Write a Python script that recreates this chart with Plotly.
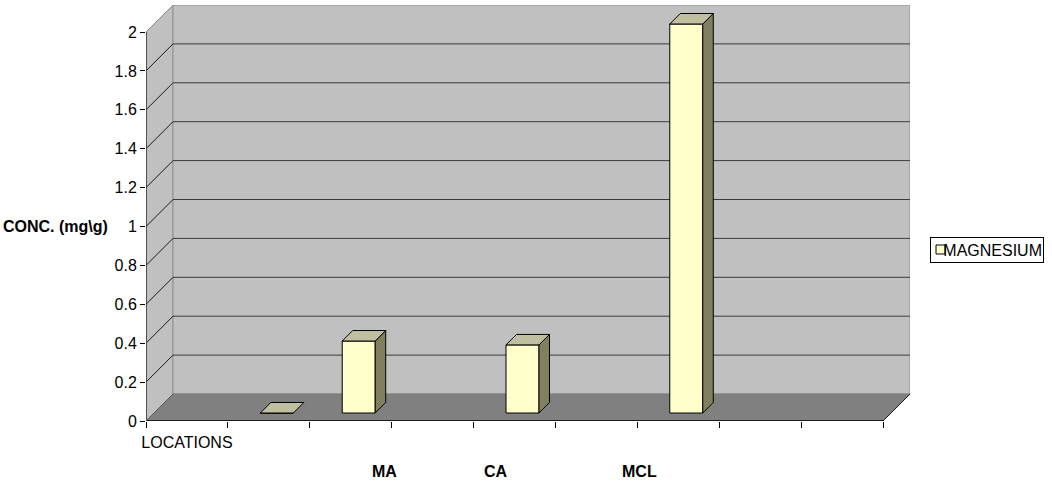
import plotly.graph_objects as go

# ---------------- data ----------------
categories = ["LOCATIONS", "", "MA", "", "CA", "", "MCL", "", ""]
magnesium = [None, 0.0, 0.37, None, 0.35, None, 2.0, None, None]
y_tick_values = [0, 0.2, 0.4, 0.6, 0.8, 1.0, 1.2, 1.4, 1.6, 1.8, 2.0]
y_tick_labels = ["0", "0.2", "0.4", "0.6", "0.8", "1", "1.2", "1.4", "1.6", "1.8", "2"]
series_name = "MAGNESIUM"
axis_title = "CONC. (mg\\g)"

# ---------------- geometry / style ----------------
W, H = 1052, 487
ML, MR, MT, MB = 146, 142, 5, 66
PW, PH = W - ML - MR, H - MT - MB
DEPTH = 27            # px, 3-D depth of the box
BAR_SHIFT = 8         # px, bar front set back from front plane
BAR_W = 33            # px, bar front width
BAR_D = 10.5          # px, bar depth
FONT = "Liberation Sans, Arial, sans-serif"
WALL = "#C0C0C0"
FLOOR = "#808080"
FRONT = "#FFFFCC"
SIDE = "#808060"
TOP = "#C0C0A0"
label_offsets = {"MA": 0.41, "CA": -0.22, "MCL": -0.47}

n = len(categories)
ymax = max(y_tick_values)
cat_px = (PW - DEPTH) / n
val_px = (PH - DEPTH) / ymax
x_rng = [0, n * PW / (PW - DEPTH)]
y_rng = [0, ymax * PH / (PH - DEPTH)]
dx, dy = DEPTH / cat_px, DEPTH / val_px


def path(pts):
    return "M " + " L ".join(f"{x},{y}" for x, y in pts) + " Z"


fig = go.Figure()

# bars
sx, sy = BAR_SHIFT / cat_px, BAR_SHIFT / val_px
hw = BAR_W / 2 / cat_px
bdx, bdy = BAR_D / cat_px, BAR_D / val_px
bx, bv = [], []
for i, v in enumerate(magnesium):
    if v is None:
        continue
    c = i + 0.5 + sx
    bx.append(c)
    bv.append(v)
    xl, xr, b, t = c - hw, c + hw, sy, sy + v
    if v > 0:
        fig.add_trace(go.Scatter(
            x=[xr, xr + bdx, xr + bdx, xr, xr], y=[b, b + bdy, t + bdy, t, b],
            mode="lines", fill="toself", fillcolor=SIDE,
            line=dict(color="black", width=1), showlegend=False, hoverinfo="skip"))
    fig.add_trace(go.Scatter(
        x=[xl, xr, xr + bdx, xl + bdx, xl], y=[t, t, t + bdy, t + bdy, t],
        mode="lines", fill="toself", fillcolor=TOP,
        line=dict(color="black", width=1), showlegend=False, hoverinfo="skip"))

fig.add_trace(go.Bar(
    x=bx, y=bv, base=sy, width=BAR_W / cat_px, name=series_name,
    marker=dict(color=FRONT, line=dict(color="black", width=1)),
    showlegend=False))

shapes = []
# walls and floor
shapes.append(dict(type="path", xref="x", yref="y", layer="below",
                   path=path([(0, 0), (dx, dy), (dx, ymax + dy), (0, ymax)]),
                   fillcolor=WALL, line=dict(color="#909090", width=1)))
shapes.append(dict(type="path", xref="x", yref="y", layer="below",
                   path=path([(dx, dy), (n + dx, dy), (n + dx, ymax + dy), (dx, ymax + dy)]),
                   fillcolor=WALL, line=dict(color="#909090", width=1)))
shapes.append(dict(type="path", xref="x", yref="y", layer="below",
                   path=path([(0, 0), (n, 0), (n + dx, dy), (dx, dy)]),
                   fillcolor=FLOOR, line=dict(color=FLOOR, width=1)))
# gridlines
for v in y_tick_values[1:-1]:
    shapes.append(dict(type="line", xref="x", yref="y", layer="below",
                       x0=dx, x1=n + dx, y0=v + dy, y1=v + dy,
                       line=dict(color="#3a3a3a", width=1)))
    shapes.append(dict(type="line", xref="x", yref="y", layer="below",
                       x0=0, x1=dx, y0=v, y1=v + dy,
                       line=dict(color="#1a1a1a", width=1)))
# axes edges
shapes.append(dict(type="line", xref="x", yref="y", layer="below",
                   x0=0, x1=0, y0=0, y1=ymax, line=dict(color="#333333", width=1.5)))
shapes.append(dict(type="line", xref="x", yref="y", layer="below",
                   x0=0, x1=n, y0=0, y1=0, line=dict(color="#1a1a1a", width=2)))
shapes.append(dict(type="line", xref="x", yref="y", layer="below",
                   x0=n, x1=n + dx, y0=0, y1=dy, line=dict(color="#1a1a1a", width=1)))
shapes.append(dict(type="line", xref="x", yref="y", layer="below",
                   x0=0, x1=dx, y0=0, y1=dy, line=dict(color="#555555", width=1)))


# legend (drawn manually to match compact Excel legend)
def px_x(p):
    return (p - ML) / PW


def px_y(p):
    return (MT + PH - p) / PH


shapes.append(dict(type="rect", xref="paper", yref="paper", layer="above",
                   x0=px_x(936), x1=px_x(945), y0=px_y(254), y1=px_y(245),
                   fillcolor=FRONT, line=dict(color="black", width=1)))

annotations = [
    dict(text=axis_title, xref="paper", yref="y", x=px_x(110), y=1.0,
         xanchor="right", yanchor="middle", showarrow=False,
         font=dict(family=FONT, size=16, color="black", weight="bold")),
    dict(text=series_name, xref="paper", yref="paper", x=px_x(930), y=px_y(250),
         xanchor="left", yanchor="middle", showarrow=False, width=110, height=22,
         align="right", bordercolor="black", borderwidth=1, borderpad=1,
         font=dict(family=FONT, size=16, color="black")),
]
for i, lab in enumerate(categories):
    if lab in label_offsets:
        annotations.append(dict(text=lab, xref="x", yref="paper",
                                x=i + 0.5 + label_offsets[lab], y=px_y(472),
                                xanchor="center", yanchor="middle", showarrow=False,
                                font=dict(family=FONT, size=16, color="black", weight="bold")))

fig.update_layout(
    width=W, height=H,
    margin=dict(l=ML, r=MR, t=MT, b=MB, pad=0),
    paper_bgcolor="white", plot_bgcolor="white",
    font=dict(family=FONT, size=16, color="black"),
    showlegend=False,
    shapes=shapes, annotations=annotations,
    xaxis=dict(range=x_rng, showgrid=False, zeroline=False, showline=False,
               tickmode="array", tickvals=[0.5], ticktext=[categories[0]],
               ticks="", tickfont=dict(size=16), ticklabelstandoff=10,
               minor=dict(tickmode="array", tickvals=list(range(n + 1)), ticks="outside",
                          ticklen=6, tickcolor="black", tickwidth=1, showgrid=False),
               fixedrange=True),
    yaxis=dict(range=y_rng, showgrid=False, zeroline=False, showline=False,
               tickmode="array", tickvals=y_tick_values, ticktext=y_tick_labels,
               ticks="outside", ticklen=5, tickcolor="black", tickwidth=1,
               tickfont=dict(size=16), fixedrange=True),
)

fig.write_html("out.html")
